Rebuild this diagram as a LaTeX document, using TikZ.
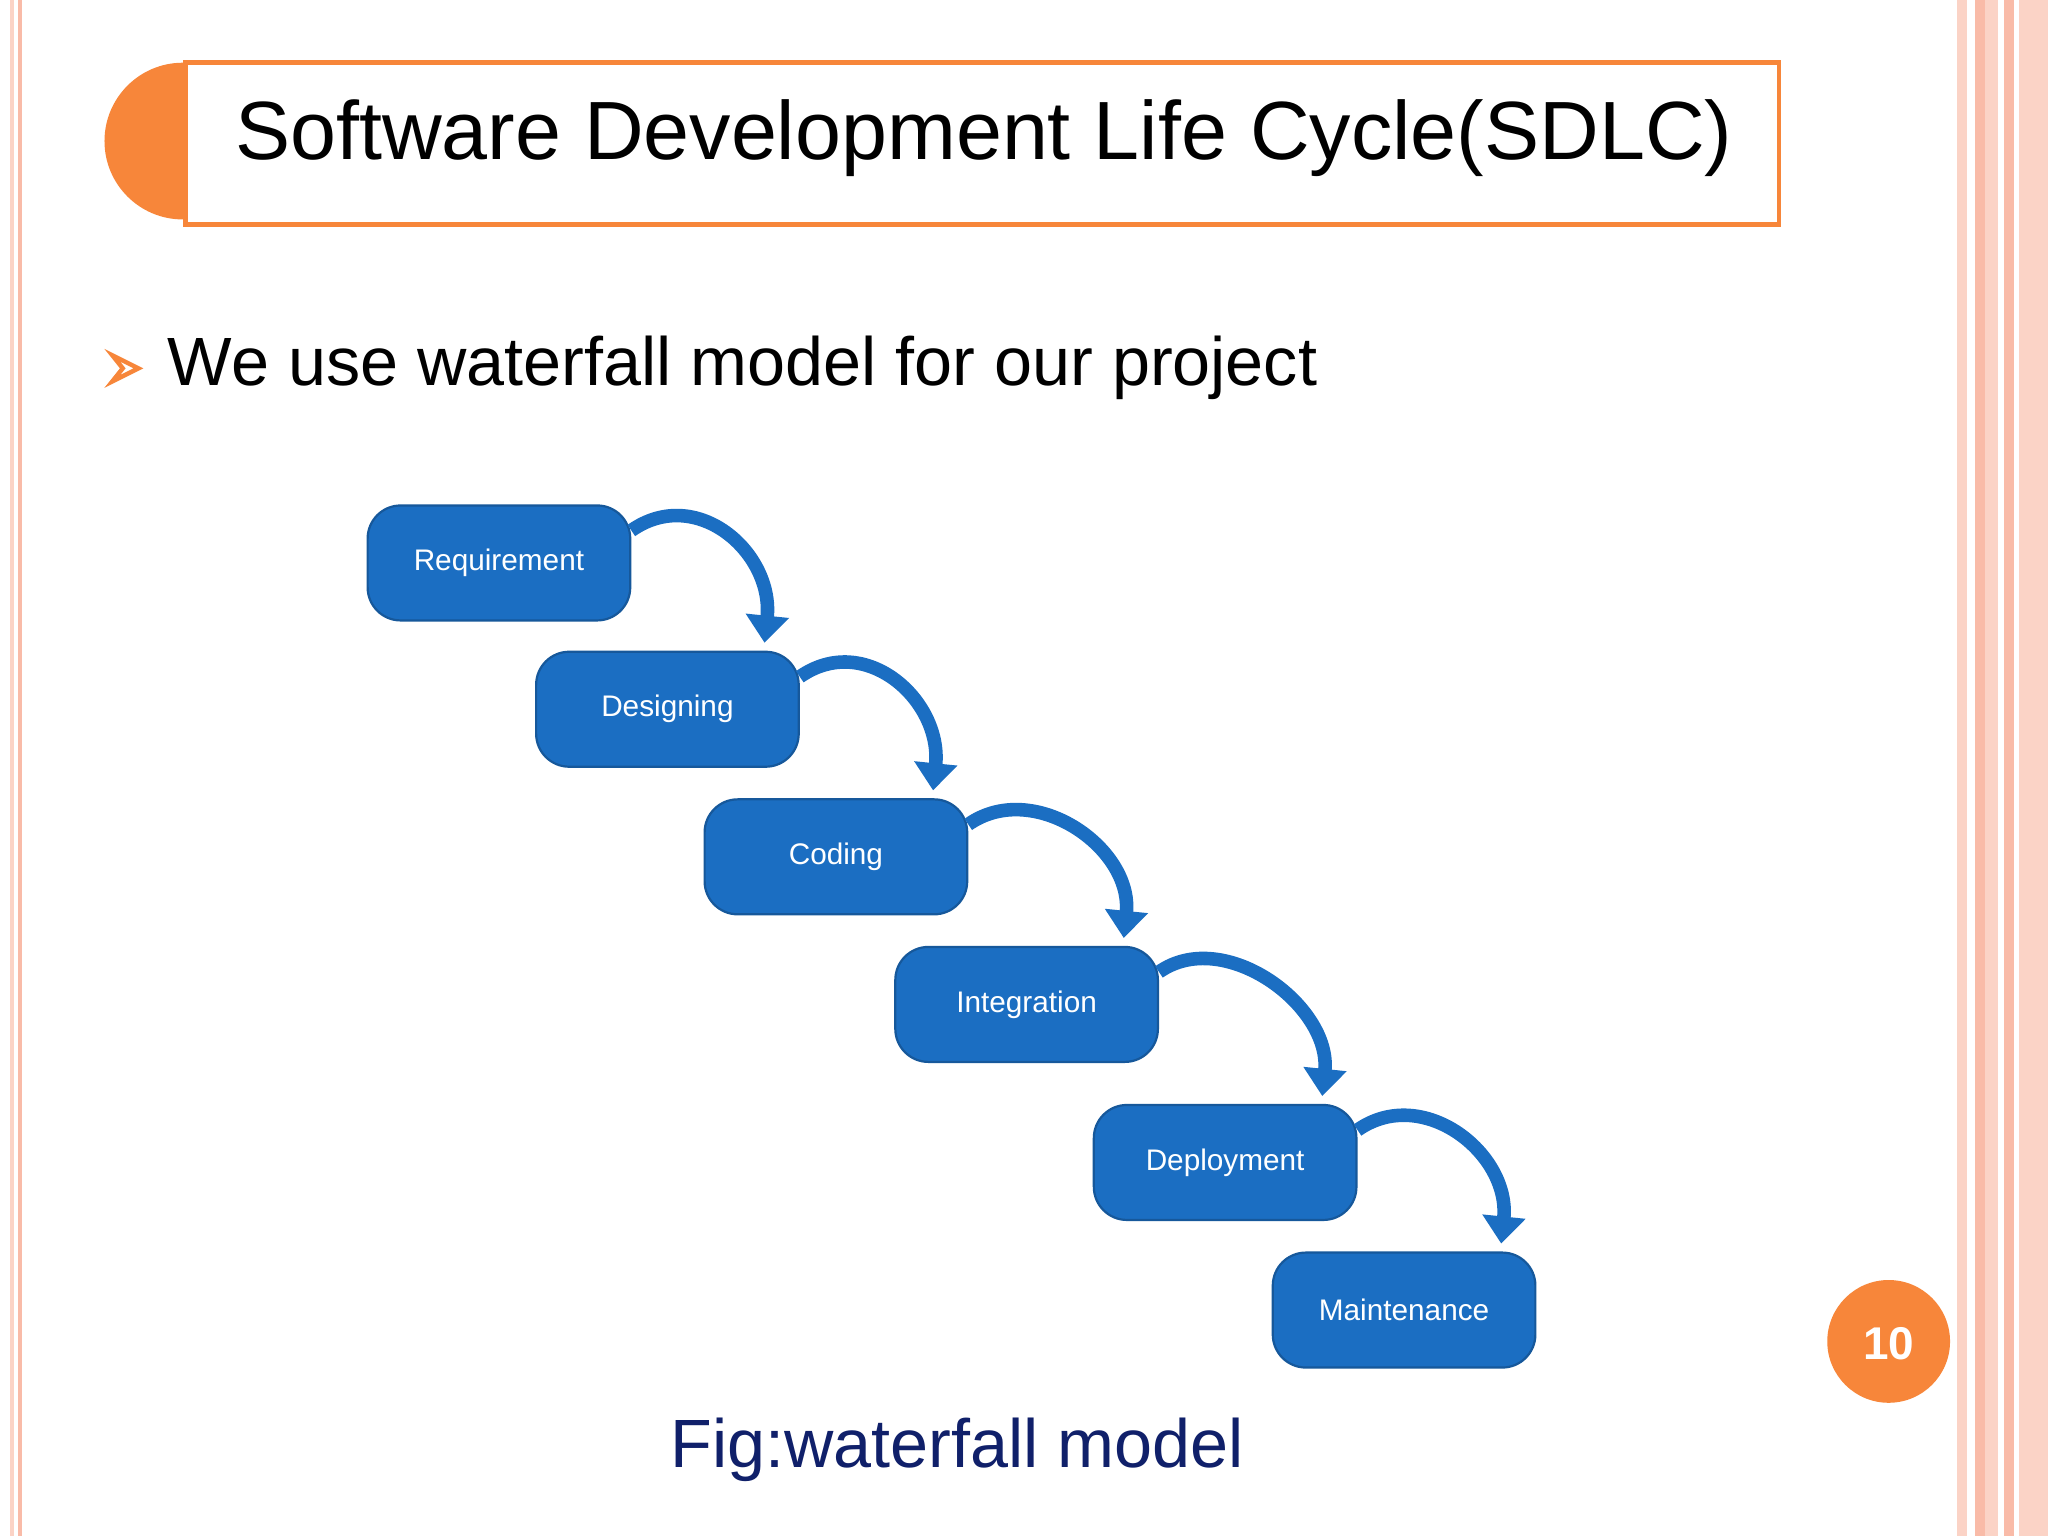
\documentclass[tikz,border=0pt]{standalone}
\usepackage{fontspec}
\setmainfont{Liberation Sans}
\usetikzlibrary{calc,arrows.meta}
\definecolor{org}{HTML}{F7863A}
\definecolor{boxb}{HTML}{1B6EC2}
\definecolor{navy}{HTML}{10206A}
\definecolor{pk1}{HTML}{F9BBA8}
\definecolor{pk2}{HTML}{FBD3C6}
\tikzset{
  stage/.style={rectangle,rounded corners=9pt,fill=boxb,draw=boxb!80!black,line width=0.6pt,minimum width=201*0.125mm,minimum height=88*0.125mm,text=white,font=\fontsize{8.1}{10}\selectfont},
  flow/.style={line width=1.3mm,draw=boxb,-{Triangle[length=2.6mm,width=4mm]}}
}
\begin{document}
\begin{tikzpicture}[x=0.0125cm,y=-0.0125cm]
\useasboundingbox (0,0) rectangle (1568,1176);
\fill[white] (0,0) rectangle (1568,1176);
% borders
\fill[pk2] (8,0) rectangle (11,1176);
\fill[pk1] (14,0) rectangle (17,1176);
\fill[pk2] (1498,0) rectangle (1506,1176);
\fill[pk1] (1512,0) rectangle (1520,1176);
\fill[pk2] (1520,0) rectangle (1530,1176);
\fill[pk1] (1534,0) rectangle (1542,1176);
\fill[pk2] (1546,0) rectangle (1568,1176);
% title
\fill[org] (140,108) circle (60);
\node[draw=org,line width=0.45mm,fill=white,minimum width=1220*0.125mm,minimum height=124*0.125mm,anchor=north west,inner sep=0] (title) at (140,46) {};
\node[font=\fontsize{22.5}{27}\selectfont,anchor=west] (tt) at (170,106) {Software Development Life Cycle(SDLC)};
% bullet
\node[font=\fontsize{18.6}{22}\selectfont,anchor=base west,inner sep=0] (bt) at (128,295) {We use waterfall model for our project};
\coordinate (bl) at (86,272);
\draw[org,line width=1.2pt,line join=miter] (bl) -- ++(20,10) -- ++(-20,10) -- ++(8,-10) -- cycle;
% stages
\node[stage] (r) at (382,431) {Requirement};
\node[stage] (d) at (511,543) {Designing};
\node[stage] (c) at (640,656) {Coding};
\node[stage] (i) at (786,769) {Integration};
\node[stage] (p) at (938,890) {Deployment};
\node[stage] (m) at (1075,1003) {Maintenance};
\foreach \a/\b in {r/d,d/c,c/i,i/p,p/m}{
  \draw[flow] ($(\a.north east)+(0,20)$) .. controls ($(\a.north east)+(50,-15)$) and ($(\b.north east)+(-20,-75)$) .. ($(\b.north east)+(-27,-6)$);
}
% page number
\fill[org] (1446,1027) circle (47);
\node[text=white,font=\fontsize{12.5}{14}\selectfont\bfseries] (pn) at (1446,1029) {10};
% caption
\node[text=navy,font=\fontsize{18.6}{22}\selectfont] (cap) at (733,1110) {Fig:waterfall model};
\end{tikzpicture}
\end{document}
